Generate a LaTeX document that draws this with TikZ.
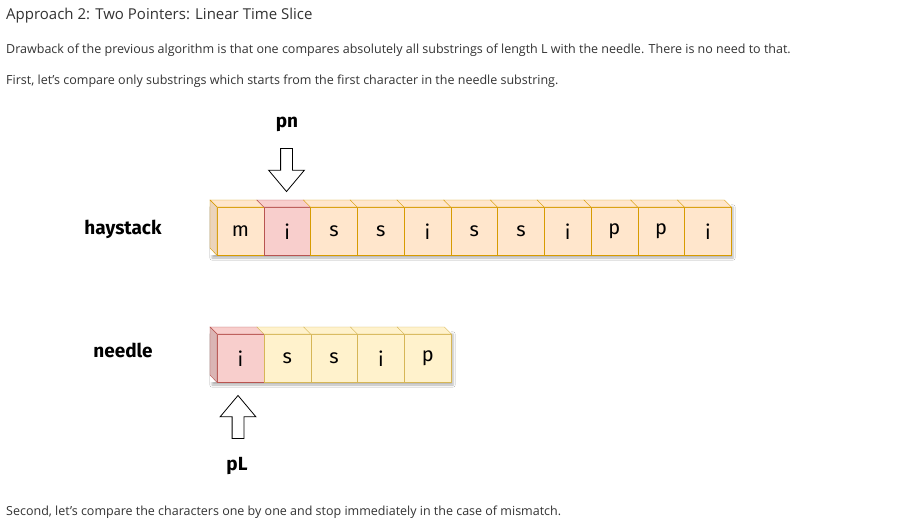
\documentclass[tikz,border=0pt]{standalone}
\usepackage{fontspec}
\setmainfont{Open Sans}
\newfontfamily\cellfont{Fira Sans}
\usetikzlibrary{shapes.arrows,shadows.blur}

\definecolor{hayfill}{HTML}{FFE6CC}
\definecolor{haydraw}{HTML}{D79B00}
\definecolor{hitfill}{HTML}{F8CECC}
\definecolor{hitdraw}{HTML}{B85450}
\definecolor{ndlfill}{HTML}{FFF2CC}
\definecolor{ndldraw}{HTML}{D6B656}
\definecolor{txt}{HTML}{333333}

\tikzset{
  hay/.style={draw=haydraw,fill=hayfill},
  hit/.style={draw=hitdraw,fill=hitfill},
  ndl/.style={draw=ndldraw,fill=ndlfill},
  cell/.style={minimum width=46.7pt,minimum height=48pt,inner sep=0pt,anchor=north west,
    font=\cellfont\fontsize{20}{20}\selectfont},
  lbl/.style={font=\cellfont\bfseries\fontsize{19}{19}\selectfont},
  para/.style={anchor=west,inner sep=0pt,text=txt,font=\fontsize{12.5}{12.5}\selectfont},
  ptr/.style={single arrow,draw=black,fill=white,minimum height=43pt,inner sep=5.5pt,
    single arrow head extend=12pt,single arrow tip angle=80,line width=0.8pt},
  shade/.style={fill=white,blur shadow={shadow xshift=2pt,shadow yshift=-3pt,shadow opacity=30}}
}

\begin{document}
\begin{tikzpicture}[x=1pt,y=-1pt]
\useasboundingbox[fill=white] (0,0) rectangle (921,528);

\node[para,font=\fontsize{15}{15}\selectfont] (title) at (6,16) {Approach 2: Two Pointers: Linear Time Slice};
\node[para] (line1) at (6,50) {Drawback of the previous algorithm is that one compares absolutely all substrings of length L with the needle. There is no need to that.};
\node[para] (line2) at (6,81) {First, let's compare only substrings which starts from the first character in the needle substring.};
\node[para] (line3) at (6,512) {Second, let's compare the characters one by one and stop immediately in the case of mismatch.};

% shadows
\path[shade] (210,204) rectangle (731,255);
\path[shade] (210,331) rectangle (451,382);

% haystack
\foreach \c/\s [count=\i from 0] in {m/hay,i/hit,s/hay,s/hay,i/hay,s/hay,s/hay,i/hay,p/hay,p/hay,i/hay}
{
\node[cell,\s] (h\i) at ({217+46.73*\i},207) {\raisebox{-3pt}{\c}};
\draw[\s] (h\i.north west) -- ++(-7,-7) -- ([shift={(-7,-7)}]h\i.north east) -- (h\i.north east) -- cycle;
}
\draw[hay,fill=hayfill!92!black] (h0.north west) -- ++(-7,-7) -- ++(0,48) -- (h0.south west) -- cycle;

% needle
\foreach \c/\s [count=\i from 0] in {i/hit,s/ndl,s/ndl,i/ndl,p/ndl}
{
\node[cell,\s] (n\i) at ({217+46.8*\i},334) {\raisebox{-3pt}{\c}};
\draw[\s] (n\i.north west) -- ++(-7,-7) -- ([shift={(-7,-7)}]n\i.north east) -- (n\i.north east) -- cycle;
}
\draw[hit,fill=hitfill!88!black] (n0.north west) -- ++(-7,-7) -- ++(0,48) -- (n0.south west) -- cycle;

\node[lbl] (haystack) at (123,229) {haystack};
\node[lbl] (needle) at (123,350) {needle};

% pointers
\node[lbl] (pn) at (287,124) {pn};
\node[ptr,rotate=-90] (pnarrow) at (286.5,166.5) {};
\node[ptr,rotate=90] (pLarrow) at (238,420.5) {};
\node[lbl] (pL) at (237,466) {pL};
\end{tikzpicture}
\end{document}
